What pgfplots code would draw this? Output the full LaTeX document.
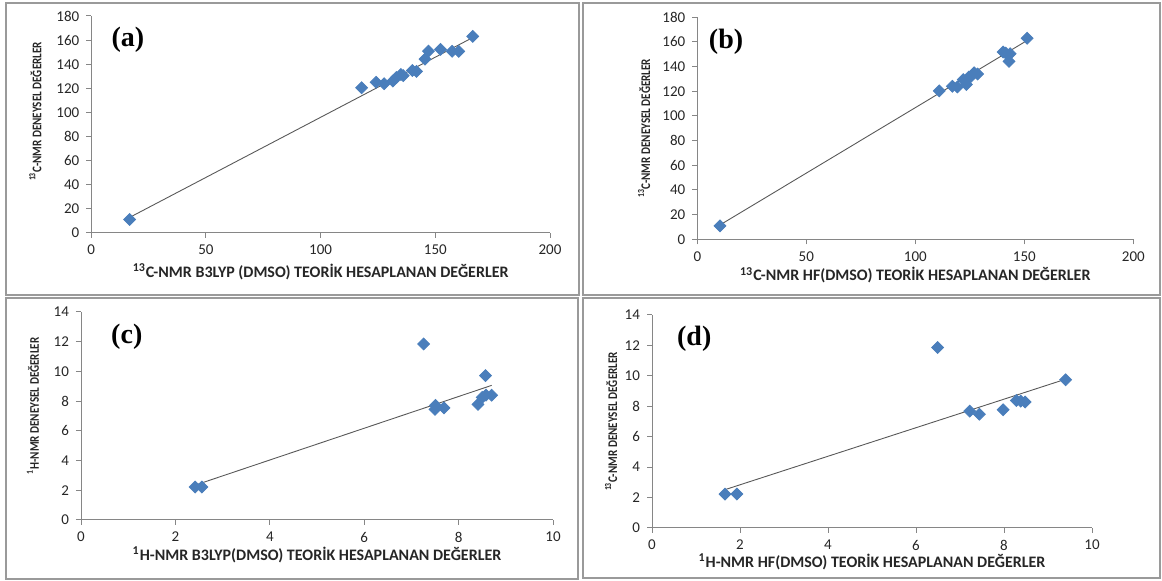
\documentclass[border=0pt]{standalone}
\usepackage{graphicx}
\usepackage{pgfplots}
\usepackage{pgfplotstable}
\pgfplotsset{compat=1.18}
\usepackage{fontspec}
\setmainfont{Carlito}
\newfontfamily\tnr{Liberation Serif}

\definecolor{markBlue}{HTML}{4A7EBB}
\definecolor{axGray}{HTML}{868686}
\definecolor{frameGray}{HTML}{9A9A9A}
\definecolor{trendInk}{HTML}{595959}

\pgfplotstableread{
x y
16.7 11.2
117.9 120.5
124.2 125.0
127.7 123.8
131.5 126.0
133.0 129.0
135.0 131.5
136.0 130.5
140.0 134.8
141.8 134.0
145.5 144.2
147.0 150.8
152.3 152.3
157.3 150.7
160.2 150.7
166.3 163.1
}\dataA

\pgfplotstableread{
x y
10.4 10.9
111.0 120.3
117.0 124.0
119.3 123.5
122.0 129.5
123.4 125.5
124.5 131.5
125.5 132.0
127.0 135.0
128.6 134.0
140.3 151.8
141.5 151.0
143.5 150.5
143.0 144.3
151.3 163.0
}\dataB

\pgfplotstableread{
x y
2.42 2.22
2.56 2.22
7.26 11.85
7.51 7.72
7.50 7.45
7.69 7.54
8.41 7.78
8.50 8.25
8.58 8.40
8.57 9.72
8.70 8.40
}\dataC

\pgfplotstableread{
x y
1.66 2.23
1.93 2.23
6.49 11.86
7.22 7.68
7.44 7.48
7.98 7.77
8.28 8.38
8.38 8.34
8.48 8.28
9.40 9.74
}\dataD

\newcommand{\ylab}[1]{\scalebox{0.84}[1]{#1}}
\tikzset{tag/.style={font=\tnr\bfseries\fontsize{14}{16}\selectfont}}
\pgfplotsset{
  panel/.style={
    scale only axis, anchor=south west,
    axis lines*=left,
    axis line style={draw=axGray, line width=0.5pt},
    tick align=outside, major tick length=2.5pt,
    tick style={draw=axGray, line width=0.5pt},
    tick label style={font=\fontsize{7.5}{8}\selectfont, text=black!85},
    /pgf/number format/assume math mode=true,
    x label style={font=\bfseries\fontsize{8}{9}\selectfont, text=black!85, anchor=center},
    y label style={font=\bfseries\fontsize{6.6}{7}\selectfont, text=black!85, anchor=center, rotate=0},
    clip=false,
  },
  pts/.style={only marks, mark=square*, mark size=2.1pt,
    mark options={rotate=45, fill=markBlue, draw=markBlue}},
  trend/.style={no marks, draw=trendInk, line width=0.45pt},
}

\begin{document}
\begin{tikzpicture}
\path (0,0) rectangle (581pt,290.5pt);
\draw[frameGray, line width=0.9pt] (3pt,143pt) rectangle (289.5pt,289pt);
\draw[frameGray, line width=0.9pt] (291.5pt,143pt) rectangle (580pt,289pt);
\draw[frameGray, line width=0.9pt] (3pt,1pt) rectangle (289pt,141.5pt);
\draw[frameGray, line width=0.9pt] (291.5pt,1.5pt) rectangle (580pt,141.5pt);

% (a)
\begin{axis}[panel, at={(45.65pt,174pt)}, width=229.35pt, height=108.5pt,
  xmin=0, xmax=200, ymin=0, ymax=180, xtick distance=50, ytick distance=20,
  xlabel={\textsuperscript{13}C-NMR B3LYP (DMSO) TEORİK HESAPLANAN DEĞERLER},
  ylabel={\ylab{\textsuperscript{13}C-NMR DENEYSEL DEĞERLER}},
  x label style={at={(axis description cs:0.5,-0.18)}},
  y label style={at={(axis description cs:-0.122,0.56)}}]
\addplot[pts] table {\dataA};
\addplot[trend] coordinates {(16.7,12.9) (166.3,162.1)};
\node[tag] at (rel axis cs:0.08,0.889) {(a)};
\end{axis}

% (b)
\begin{axis}[panel, at={(348.65pt,170.85pt)}, width=218pt, height=111pt,
  xmin=0, xmax=200, ymin=0, ymax=180, xtick distance=50, ytick distance=20,
  xlabel={\textsuperscript{13}C-NMR HF(DMSO) TEORİK HESAPLANAN DEĞERLER},
  ylabel={\ylab{\textsuperscript{13}C-NMR DENEYSEL DEĞERLER}},
  x label style={at={(axis description cs:0.5,-0.162)}},
  y label style={at={(axis description cs:-0.122,0.5)}}]
\addplot[pts] table {\dataB};
\addplot[trend] coordinates {(10.4,11.6) (151.3,161.2)};
\node[tag] at (rel axis cs:0.066,0.89) {(b)};
\end{axis}

% (c)
\begin{axis}[panel, at={(40.5pt,30.5pt)}, width=236pt, height=104pt,
  xmin=0, xmax=10, ymin=0, ymax=14, xtick distance=2, ytick distance=2,
  xlabel={\textsuperscript{1}H-NMR B3LYP(DMSO) TEORİK HESAPLANAN DEĞERLER},
  ylabel={\ylab{\textsuperscript{1}H-NMR DENEYSEL DEĞERLER}},
  x label style={at={(axis description cs:0.5,-0.168)}},
  y label style={at={(axis description cs:-0.102,0.548)}}]
\addplot[pts] table {\dataC};
\addplot[trend] coordinates {(2.45,2.38) (8.70,9.06)};
\node[tag] at (rel axis cs:0.097,0.881) {(c)};
\end{axis}

% (d)
\begin{axis}[panel, at={(326pt,26.5pt)}, width=220pt, height=106.5pt,
  xmin=0, xmax=10, ymin=0, ymax=14, xtick distance=2, ytick distance=2,
  xlabel={\textsuperscript{1}H-NMR HF(DMSO) TEORİK HESAPLANAN DEĞERLER},
  ylabel={\ylab{\textsuperscript{13}C-NMR DENEYSEL DEĞERLER}},
  x label style={at={(axis description cs:0.5,-0.16)}},
  y label style={at={(axis description cs:-0.093,0.5)}}]
\addplot[pts] table {\dataD};
\addplot[trend] coordinates {(1.66,2.52) (9.40,9.78)};
\node[tag] at (rel axis cs:0.096,0.89) {(d)};
\end{axis}
\end{tikzpicture}
\end{document}
